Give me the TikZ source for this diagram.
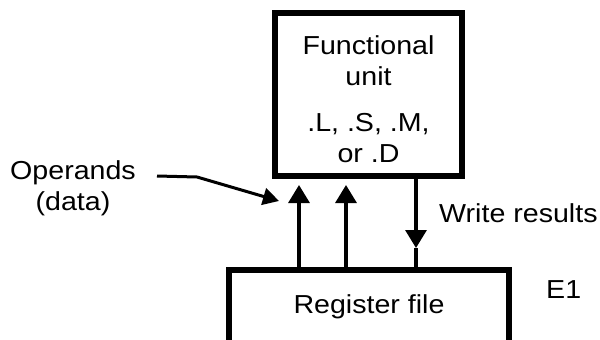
\documentclass[tikz,border=0pt]{standalone}
\usepackage{fontspec}
\setmainfont[FakeStretch=1.1]{Liberation Sans}
\usetikzlibrary{arrows.meta}

\begin{document}
\begin{tikzpicture}[x=1pt, y=-1pt,
  every node/.style={font=\fontsize{26}{31}\selectfont, inner sep=0pt},
  unitbox/.style={draw, line width=6pt, rectangle},
  link/.style={line width=3.2pt, -{Triangle[length=18pt,width=21pt]}}
]
\useasboundingbox (0,0) rectangle (600,340);

\node[unitbox, minimum width=187pt, minimum height=163pt] (fu) at (368.5,94.5) {};
\node[align=center] (futxt) at (368.5,99) {Functional\\unit\\[15pt].L, .S, .M,\\or .D};

\node[unitbox, minimum width=280pt, minimum height=74pt] (reg) at (369,307) {Register file};

\node[align=center] (opnd) at (73,188) {Operands\\(data)};
\node[anchor=west] (wres) at (439,213) {Write results};
\node[anchor=west] (e1) at (546,290) {E1};

\coordinate (in1) at (299,0);
\coordinate (in2) at (346,0);
\coordinate (wr) at (416,248);
\coordinate (optip) at (279,201);

\draw[link, shorten >=6pt] (reg.north -| in1) -- (fu.south -| in1);
\draw[link, shorten >=6pt] (reg.north -| in2) -- (fu.south -| in2);
\draw[link] (fu.south -| wr) -- (wr);
\draw[line width=3.2pt] (wr) -- (reg.north -| wr);

\draw[link, line width=3pt, -{Triangle[length=16pt,width=17pt]}]
  ([xshift=21pt,yshift=12pt]opnd.east) -- ++(40,1) -- (optip);

\end{tikzpicture}
\end{document}
